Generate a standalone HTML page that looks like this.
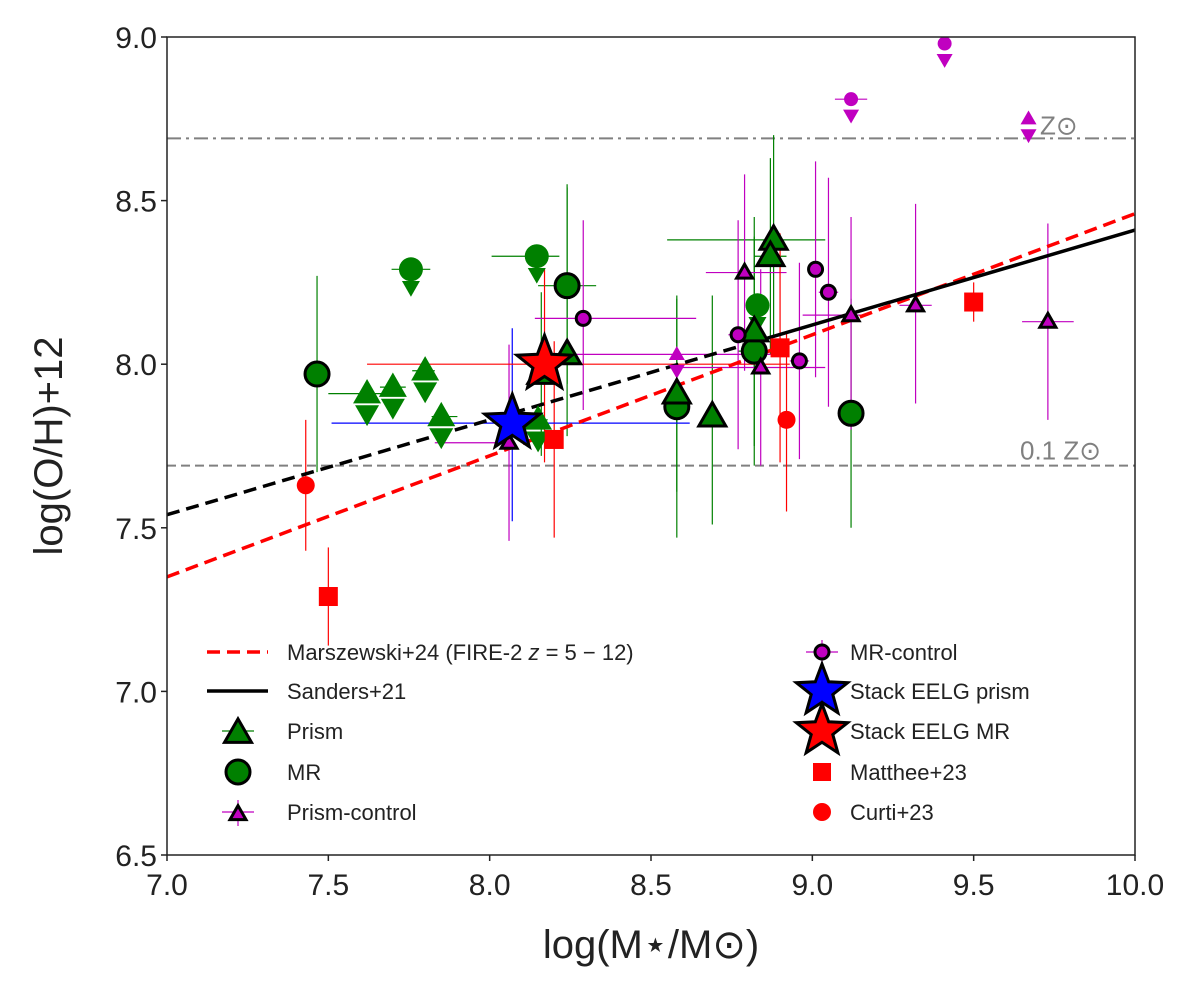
<!DOCTYPE html>
<html><head><meta charset="utf-8"><style>
body{margin:0;background:#fff;}
svg{display:block;font-family:"Liberation Sans",Arial,sans-serif;}
</style></head><body>
<svg id="chart" width="1200" height="997" viewBox="0 0 1200 997" xmlns="http://www.w3.org/2000/svg">
<g id="plot"></g>
</svg>
<script>
// data: [x, y, xerrLo, xerrHi, yerrLo, yerrHi]
const prismPts = [[8.24,8.03,0.03,0.03,0.25,0.52],[8.88,8.38,0.33,0.16,0.30,0.32],[8.87,8.33,0.05,0.05,0.30,0.30],[8.82,8.10,0.02,0.02,0.35,0.35],[8.69,7.84,0,0,0.33,0.37],[8.58,7.91,0,0,0.30,0.30],[8.16,7.97,0.03,0.03,0.25,0.25]];
const prismLim = [[7.62,7.91,0.12,0.05],[7.70,7.93,0.04,0.04],[7.80,7.98,0.04,0.03],[7.85,7.84,0.03,0.05],[8.15,7.83,0.03,0.03]];
const mrPts = [[7.465,7.97,0,0,0.30,0.30],[8.24,8.24,0.09,0.09,0.3,0.3],[8.58,7.87,0,0,0.40,0.33],[8.82,8.04,0.05,0.05,0.35,0.35],[9.12,7.85,0,0,0.35,0.35]];
const mrLim = [[7.756,8.29,0.06,0.06],[8.146,8.33,0.14,0.07],[8.83,8.18,0.03,0.03]];
const mcPts = [[8.29,8.14,0.15,0.35,0.28,0.30],[8.77,8.09,0.03,0.03,0.35,0.35],[8.96,8.01,0.03,0.03,0.30,0.30],[9.01,8.29,0,0,0.33,0.33],[9.05,8.22,0.03,0.03,0.35,0.35]];
const mcLim = [[9.41,8.98,0,0],[9.12,8.81,0.05,0.05]];
const pcPts = [[8.06,7.76,0.23,0,0.30,0.30],[8.79,8.28,0.12,0.13,0.30,0.30],[8.84,7.99,0.25,0.20,0.30,0.30],[9.12,8.15,0.15,0.05,0.35,0.30],[9.32,8.18,0.05,0.05,0.30,0.31],[9.73,8.13,0.08,0.08,0.30,0.30]];
const pcLim = [[8.58,8.03,0.45,0.30],[9.67,8.75,0,0]];
const mattheePts = [[7.50,7.29,0,0,0.15,0.15],[8.20,7.77,0,0,0.30,0.30],[8.90,8.05,0,0,0.35,0.35],[9.50,8.19,0,0,0.06,0.06]];
const curtiPts = [[7.43,7.63,0,0,0.20,0.20],[8.92,7.83,0,0,0.28,0.27]];
const stackPrism = [8.07,7.82,0.56,0.55,0.30,0.29];
const stackMR = [8.17,8.00,0.55,0.76,0.30,0.29];
const sandersLine = [[7.0,7.54],[10.0,8.41]];
const marszLine = [[7.0,7.35],[10.0,8.46]];
const xTicks = [7.0,7.5,8.0,8.5,9.0,9.5,10.0];
const yTicks = [6.5,7.0,7.5,8.0,8.5,9.0];

const L=167,R=1135,T=37,B=855;
const sx=v=>L+(v-7)/3*(R-L);
const sy=v=>B-(v-6.5)/2.5*(B-T);
const NS='http://www.w3.org/2000/svg';
const g=document.getElementById('plot');
function mk(tag,attrs,parent){const e=document.createElementNS(NS,tag);for(const k in attrs)e.setAttribute(k,attrs[k]);(parent||g).appendChild(e);return e;}

let e=mk('line',{x1:L,x2:R,y1:sy(8.69),y2:sy(8.69),stroke:'#808080','stroke-width':2,'stroke-dasharray':'14,5,3,5'});


e=mk('line',{x1:L,x2:R,y1:sy(7.69),y2:sy(7.69),stroke:'#808080','stroke-width':2,'stroke-dasharray':'9,5'});


e=mk('text',{x:1040,y:sy(8.69)-4,'font-size':26,fill:'#808080'});e.textContent='Z⊙';


e=mk('text',{x:1020,y:sy(7.69)-6,'font-size':26,fill:'#808080'});e.textContent='0.1 Z⊙';



function err(p,col,w){
  const [x,y,xl,xh,yl,yh]=p;
  if(yl||yh){const l=mk('line',{x1:sx(x),x2:sx(x),y1:sy(y-(yl||0)),y2:sy(y+(yh||0)),stroke:col,'stroke-width':w||1.2});}
  if(xl||xh){const l=mk('line',{x1:sx(x-(xl||0)),x2:sx(x+(xh||0)),y1:sy(y),y2:sy(y),stroke:col,'stroke-width':w||1.2});}
}
function tri(cx,cy,s,fill,edge,down,name){
  const h=s*0.87;const d=down?-1:1;
  const pts=[[cx,cy-d*h*0.6],[cx-s/2,cy+d*h*0.4],[cx+s/2,cy+d*h*0.4]].map(a=>a.join(',')).join(' ');
  const el=mk('polygon',{points:pts,fill:fill,stroke:edge?'#000':'none','stroke-width':edge?3:0});
  
  
  return el;
}
function circ(cx,cy,r,fill,edge,name){
  const el=mk('circle',{cx:cx,cy:cy,r:r,fill:fill,stroke:edge?'#000':'none','stroke-width':edge?3:0});
  
  
  return el;
}
function sq(cx,cy,s,fill,name){
  const el=mk('rect',{x:cx-s/2,y:cy-s/2,width:s,height:s,fill:fill});
  
  
  return el;
}
function star(cx,cy,r,fill,name){
  let pts=[];for(let i=0;i<10;i++){const a=-Math.PI/2+i*Math.PI/5;const rr=i%2?r*0.42:r;pts.push((cx+rr*Math.cos(a)).toFixed(1)+','+(cy+rr*Math.sin(a)).toFixed(1));}
  const el=mk('polygon',{points:pts.join(' '),fill:fill,stroke:'#000','stroke-width':3,'stroke-linejoin':'miter'});
  
  
  return el;
}
function limitArrow(x,y,col,s,off){
  tri(sx(x),sy(y)+off,s,col,false,true,'upper-limit-arrow');
}

prismPts.forEach(p=>err(p,'#008000'));
mrPts.forEach(p=>err(p,'#008000'));
prismLim.forEach(p=>err([p[0],p[1],p[2],p[3],0,0],'#008000'));
mrLim.forEach(p=>err([p[0],p[1],p[2],p[3],0,0],'#008000'));
mcPts.forEach(p=>err(p,'#c000c0'));
pcPts.forEach(p=>err(p,'#c000c0'));
mcLim.forEach(p=>err([p[0],p[1],p[2],p[3],0,0],'#c000c0'));
pcLim.forEach(p=>err([p[0],p[1],p[2],p[3],0,0],'#c000c0'));
mattheePts.forEach(p=>err(p,'#ff0000'));
curtiPts.forEach(p=>err(p,'#ff0000'));
err(stackPrism,'#0000ff');
err(stackMR,'#ff0000');

function xAt(line,x){const [a,b]=line;return a[1]+(b[1]-a[1])*(x-a[0])/(b[0]-a[0]);}
e=mk('line',{x1:sx(marszLine[0][0]),y1:sy(marszLine[0][1]),x2:sx(marszLine[1][0]),y2:sy(marszLine[1][1]),stroke:'#ff0000','stroke-width':3.5,'stroke-dasharray':'13,7'});


const split=8.85;
e=mk('line',{x1:sx(sandersLine[0][0]),y1:sy(sandersLine[0][1]),x2:sx(split),y2:sy(xAt(sandersLine,split)),stroke:'#000','stroke-width':3.5,'stroke-dasharray':'13,7'});


e=mk('line',{x1:sx(split),y1:sy(xAt(sandersLine,split)),x2:sx(sandersLine[1][0]),y2:sy(sandersLine[1][1]),stroke:'#000','stroke-width':3.5});



prismLim.forEach(p=>{limitArrow(p[0],p[1],'#008000',24,20);tri(sx(p[0]),sy(p[1]),28,'#008000',false,false,'prism-upper-limit');});
mrLim.forEach(p=>{limitArrow(p[0],p[1],'#008000',18,18);circ(sx(p[0]),sy(p[1]),12,'#008000',false,'mr-upper-limit');});
mcLim.forEach(p=>{limitArrow(p[0],p[1],'#c000c0',16,16);circ(sx(p[0]),sy(p[1]),7,'#c000c0',false,'mr-control-upper-limit');});
pcLim.forEach(p=>{limitArrow(p[0],p[1],'#c000c0',16,16);tri(sx(p[0]),sy(p[1]),16,'#c000c0',false,false,'prism-control-upper-limit');});
mattheePts.forEach(p=>sq(sx(p[0]),sy(p[1]),19,'#ff0000','matthee-point'));
curtiPts.forEach(p=>circ(sx(p[0]),sy(p[1]),9,'#ff0000',false,'curti-point'));
mrPts.forEach(p=>circ(sx(p[0]),sy(p[1]),12,'#008000',true,'mr-point'));
prismPts.forEach(p=>tri(sx(p[0]),sy(p[1]),27,'#008000',true,false,'prism-point'));
mcPts.forEach(p=>circ(sx(p[0]),sy(p[1]),7,'#c000c0',true,'mr-control-point'));
pcPts.forEach(p=>tri(sx(p[0]),sy(p[1]),16,'#c000c0',true,false,'prism-control-point'));
star(sx(stackPrism[0]),sy(stackPrism[1]),29,'#0000ff','stack-eelg-prism');
star(sx(stackMR[0]),sy(stackMR[1]),29,'#ff0000','stack-eelg-mr');

e=mk('rect',{x:L,y:T,width:R-L,height:B-T,fill:'none',stroke:'#222','stroke-width':1.5});


xTicks.forEach(v=>{
  const t=mk('line',{x1:sx(v),x2:sx(v),y1:B,y2:B+6,stroke:'#222','stroke-width':1.5});
  
  
  const l=mk('text',{x:sx(v),y:B+40,'font-size':30,'text-anchor':'middle',fill:'#222'});l.textContent=v.toFixed(1);
  
  
});
yTicks.forEach(v=>{
  const t=mk('line',{x1:L-6,x2:L,y1:sy(v),y2:sy(v),stroke:'#222','stroke-width':1.5});
  
  
  const l=mk('text',{x:L-10,y:sy(v)+11,'font-size':30,'text-anchor':'end',fill:'#222'});l.textContent=v.toFixed(1);
  
  
});
e=mk('text',{x:651,y:958,'font-size':40,'text-anchor':'middle',fill:'#222'});e.textContent='log(M⋆/M⊙)';


e=mk('text',{x:0,y:0,'font-size':40,'text-anchor':'middle',fill:'#222',transform:'translate(62,446) rotate(-90)'});e.textContent='log(O/H)+12';



// legend
const lg=mk('g',{});


function ltxt(x,y,s){const t=mk('text',{x:x,y:y+8,'font-size':22,fill:'#222'},lg);t.textContent=s;return t;}
function lline(x1,y1,x2,y2,col){const l=mk('line',{x1:x1,y1:y1,x2:x2,y2:y2,stroke:col,'stroke-width':1.2},lg);}
e=mk('line',{x1:207,x2:268,y1:652,y2:652,stroke:'#ff0000','stroke-width':3.5,'stroke-dasharray':'13,7'},lg);


const t1=mk('text',{x:287,y:660,'font-size':22,fill:'#222'},lg);
t1.innerHTML='Marszewski+24 (FIRE-2 <tspan font-style="italic">z</tspan> = 5 − 12)';


e=mk('line',{x1:207,x2:268,y1:691,y2:691,stroke:'#000','stroke-width':3.5},lg);


ltxt(287,691,'Sanders+21');
lline(222,731,254,731,'#008000');
tri(238,733,27,'#008000',true,false,'legend-prism-marker');
ltxt(287,731,'Prism');
circ(238,772,12,'#008000',true,'legend-mr-marker');
ltxt(287,772,'MR');
lline(222,812,254,812,'#c000c0');lline(238,800,238,826,'#c000c0');
tri(238,814,16,'#c000c0',true,false,'legend-prism-control-marker');
ltxt(287,812,'Prism-control');
const RX=822, RT=850;
lline(RX-16,652,RX+16,652,'#c000c0');lline(RX,640,RX,664,'#c000c0');
circ(RX,652,7,'#c000c0',true,'legend-mr-control-marker');
ltxt(RT,652,'MR-control');
star(RX,691,27,'#0000ff','legend-stack-prism-marker');
ltxt(RT,691,'Stack EELG prism');
star(RX,731,27,'#ff0000','legend-stack-mr-marker');
ltxt(RT,731,'Stack EELG MR');
sq(RX,772,18,'#ff0000','legend-matthee-marker');
ltxt(RT,772,'Matthee+23');
circ(RX,812,9,'#ff0000',false,'legend-curti-marker');
ltxt(RT,812,'Curti+23');
</script>
</body></html>
